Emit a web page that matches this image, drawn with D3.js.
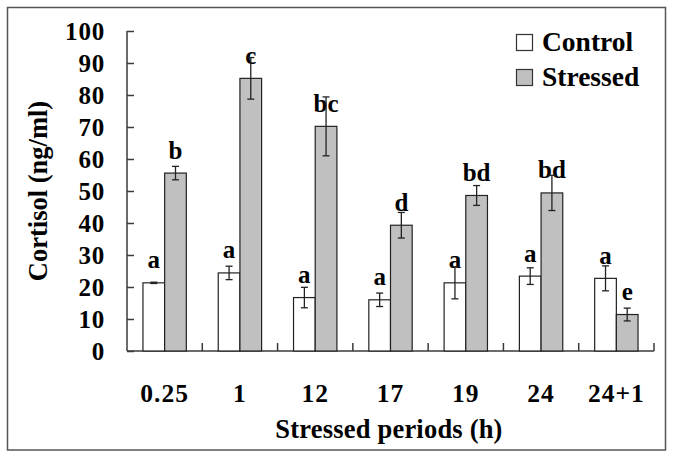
<!DOCTYPE html>
<html><head><meta charset="utf-8">
<script src="https://cdn.jsdelivr.net/npm/d3@7/dist/d3.min.js"></script>
<style>body{margin:0;background:#fff}svg{display:block}</style>
</head><body><svg id="c" width="673" height="458"></svg>
<script>
const categories = ["0.25","1","12","17","19","24","24+1"];
const controlValues = [21.3, 24.4, 16.7, 16.0, 21.3, 23.4, 22.7];
const controlErrors = [0.2, 2.1, 3.2, 2.1, 5.0, 2.6, 3.9];
const stressedValues = [55.6, 85.2, 70.2, 39.3, 48.6, 49.4, 11.4];
const stressedErrors = [2.1, 6.5, 9.2, 4.0, 3.1, 5.5, 2.0];
const controlLetters = ["a","a","a","a","a","a","a"];
const stressedLetters = ["b","c","bc","d","bd","bd","e"];
const yTicks = [0,10,20,30,40,50,60,70,80,90,100];
const seriesNames = ["Control","Stressed"];

(function(){
const FONT = "'Liberation Serif', 'DejaVu Serif', serif";
const svg = d3.select("#c").attr("font-family",FONT).attr("font-weight","bold");
svg.append("rect").attr("width",673).attr("height",458).attr("fill","#fff");
svg.append("rect").attr("x",7.5).attr("y",7.5).attr("width",658).attr("height",442.5)
  .attr("fill","none").attr("stroke","#555").attr("stroke-width",1.5);

const pL=127, pR=654, pT=31, pB=351;
const x = d3.scaleBand().domain(categories).range([pL,pR]).padding(0);
const y = d3.scaleLinear().domain([0,100]).range([pB,pT]);
const bw = x.bandwidth()*0.288;
const axisColor = "#3a3a3a";

const T = sel => sel.attr("font-family",FONT).attr("font-weight","bold").attr("fill","#000");

// y axis
const yAxis = svg.append("g").attr("transform",`translate(${pL},0)`)
  .call(d3.axisRight(y).tickValues(yTicks).tickSize(7).tickFormat(""));
yAxis.select(".domain").attr("stroke",axisColor).attr("stroke-width",1.5).attr("d",`M0,${pT}V${pB}`);
yAxis.selectAll(".tick line").attr("stroke",axisColor).attr("stroke-width",1.5);
svg.append("g").selectAll("text").data(yTicks).join("text").call(T)
  .attr("x",105).attr("y",d=>y(d)+9).attr("text-anchor","end")
  .attr("font-size",25).attr("letter-spacing",0.8).text(d=>d);

// x axis
const xg = svg.append("g");
xg.append("line").attr("x1",pL).attr("x2",pR).attr("y1",pB).attr("y2",pB)
  .attr("stroke",axisColor).attr("stroke-width",1.5);
xg.selectAll("line.t").data(categories).join("line").attr("class","t")
  .attr("x1",d=>x(d)+x.bandwidth()).attr("x2",d=>x(d)+x.bandwidth())
  .attr("y1",pB).attr("y2",pB-8).attr("stroke",axisColor).attr("stroke-width",1.5);
xg.selectAll("text").data(categories).join("text").call(T)
  .attr("x",d=>x(d)+x.bandwidth()/2).attr("y",402).attr("text-anchor","middle")
  .attr("font-size",25.5).attr("letter-spacing",1).text(d=>d);

const series = [
  {vals:controlValues, errs:controlErrors, letters:controlLetters, fill:"#ffffff", off:-1},
  {vals:stressedValues, errs:stressedErrors, letters:stressedLetters, fill:"#c0c0c0", off:0}
];
series.forEach(s=>{
  const g = svg.append("g");
  const cx = (d,i)=>x(categories[i])+x.bandwidth()/2 + s.off*bw;
  g.selectAll("rect").data(s.vals).join("rect")
    .attr("x",(d,i)=>cx(d,i)).attr("y",d=>y(d)).attr("width",bw).attr("height",d=>pB-y(d))
    .attr("fill",s.fill).attr("stroke","#222").attr("stroke-width",1.2);
  g.selectAll("text").data(s.letters).join("text").call(T)
    .attr("x",(d,i)=>cx(d,i)+bw/2).attr("y",(d,i)=>y(s.vals[i])-14.5)
    .attr("text-anchor","middle").attr("font-size",25).text(d=>d);
  const eg = g.append("g").attr("stroke","#222").attr("stroke-width",1.3);
  s.vals.forEach((v,i)=>{
    const mx = cx(v,i)+bw/2;
    eg.append("line").attr("x1",mx).attr("x2",mx).attr("y1",y(v+s.errs[i])).attr("y2",y(v-s.errs[i]));
    eg.append("line").attr("x1",mx-3.5).attr("x2",mx+3.5).attr("y1",y(v+s.errs[i])).attr("y2",y(v+s.errs[i]));
    eg.append("line").attr("x1",mx-3.5).attr("x2",mx+3.5).attr("y1",y(v-s.errs[i])).attr("y2",y(v-s.errs[i]));
  });
});

// axis titles
svg.append("text").call(T).attr("transform","translate(47,191) rotate(-90)").attr("text-anchor","middle")
  .attr("font-size",26.5).text("Cortisol (ng/ml)");
svg.append("text").call(T).attr("x",389).attr("y",438).attr("text-anchor","middle")
  .attr("font-size",26.5).attr("letter-spacing",0.2).text("Stressed periods (h)");

// legend
const lg = svg.append("g");
seriesNames.forEach((n,i)=>{
  lg.append("rect").attr("x",516.5).attr("y",34.5+i*35).attr("width",16).attr("height",16)
    .attr("fill",series[i].fill).attr("stroke","#333").attr("stroke-width",1.2);
  lg.append("text").call(T).attr("x",542).attr("y",51+i*35).attr("font-size",27.5).text(n);
});
})();
</script></body></html>
